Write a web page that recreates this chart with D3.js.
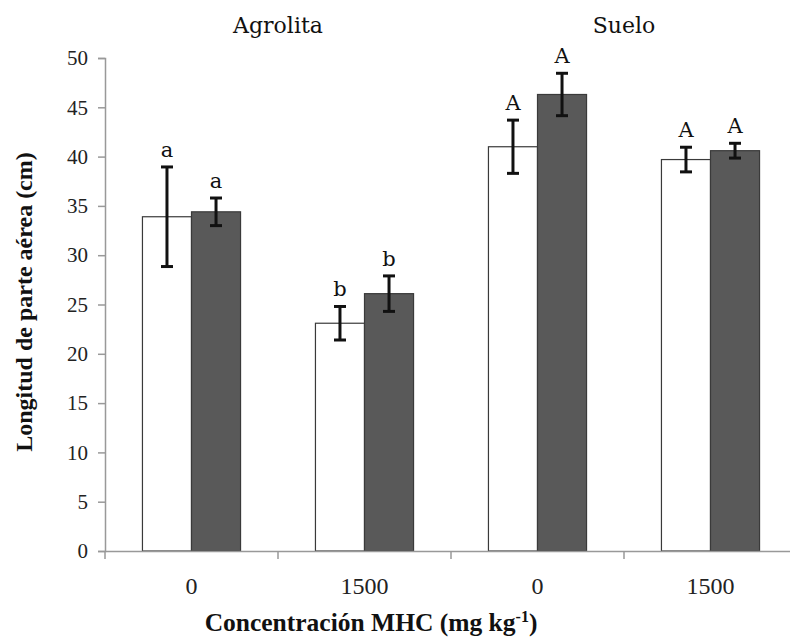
<!DOCTYPE html>
<html>
<head>
<meta charset="utf-8">
<script src="https://cdn.jsdelivr.net/npm/d3@7"></script>
<style>
  body { margin: 0; background: #fff; }
  svg text { font-family: "Liberation Serif", "Times New Roman", serif; }
</style>
</head>
<body>
<div id="chart"></div>
<script>
// data
const categories = ['Agrolita-0', 'Agrolita-1500', 'Suelo-0', 'Suelo-1500'];
const catLabels = ['0', '1500', '0', '1500'];
const groups = ['Agrolita', 'Suelo'];
const series = ['s1', 's2'];
const meansWhite = [33.9, 23.1, 41.0, 39.7];
const errWhite = [5.05, 1.7, 2.7, 1.25];
const meansDark = [34.4, 26.1, 46.3, 40.6];
const errDark = [1.4, 1.8, 2.15, 0.75];
const lettersWhite = ['a', 'b', 'A', 'A'];
const lettersDark = ['a', 'b', 'A', 'A'];
const yTicks = [0, 5, 10, 15, 20, 25, 30, 35, 40, 45, 50];

const width = 790, height = 640;
const plot = { left: 105, right: 797, top: 58, bottom: 551 };
const serif = '"Liberation Serif", "Times New Roman", serif';

const svg = d3.select('#chart').append('svg')
  .attr('width', width)
  .attr('height', height);

const x = d3.scaleBand()
  .domain(categories)
  .range([plot.left, plot.right])
  .paddingInner(0.433)
  .paddingOuter(0.2165);

const xs = d3.scaleBand()
  .domain(series)
  .range([0, x.bandwidth()]);

const y = d3.scaleLinear()
  .domain([0, 50])
  .range([plot.bottom, plot.top]);

// build rows for bars
const rows = [];
categories.forEach((c, i) => {
  rows.push({ cat: c, s: 's1', v: meansWhite[i], e: errWhite[i], l: lettersWhite[i], fill: '#ffffff' });
  rows.push({ cat: c, s: 's2', v: meansDark[i], e: errDark[i], l: lettersDark[i], fill: '#595959' });
});

// bars
svg.append('g').selectAll('rect')
  .data(rows)
  .enter()
  .append('rect')
  .attr('x', d => x(d.cat) + xs(d.s))
  .attr('y', d => y(d.v))
  .attr('width', xs.bandwidth())
  .attr('height', d => y(0) - y(d.v))
  .attr('fill', d => d.fill)
  .attr('stroke', '#3a3a3a')
  .attr('stroke-width', 1.2);

// error bars
const eb = svg.append('g').attr('stroke', '#111').attr('stroke-width', 3);
rows.forEach(d => {
  const cx = x(d.cat) + xs(d.s) + xs.bandwidth() / 2;
  eb.append('line').attr('x1', cx).attr('x2', cx).attr('y1', y(d.v + d.e)).attr('y2', y(d.v - d.e));
  eb.append('line').attr('x1', cx - 6).attr('x2', cx + 6).attr('y1', y(d.v + d.e)).attr('y2', y(d.v + d.e));
  eb.append('line').attr('x1', cx - 6).attr('x2', cx + 6).attr('y1', y(d.v - d.e)).attr('y2', y(d.v - d.e));
});

// significance letters
svg.append('g').selectAll('text')
  .data(rows)
  .enter()
  .append('text')
  .attr('x', d => x(d.cat) + xs(d.s) + xs.bandwidth() / 2)
  .attr('y', d => y(d.v + d.e) - 10)
  .attr('text-anchor', 'middle')
  .style('font-family', '"DejaVu Serif", serif')
  .style('font-size', '21px')
  .attr('fill', '#111')
  .text(d => d.l);

// y axis
const yAxis = svg.append('g')
  .attr('transform', `translate(${plot.left},0)`)
  .call(d3.axisLeft(y).tickValues(yTicks).tickSize(7).tickPadding(10));
yAxis.select('.domain').attr('stroke', '#999').attr('stroke-width', 1.5);
yAxis.selectAll('.tick line').attr('stroke', '#999').attr('stroke-width', 1.5);
yAxis.selectAll('.tick text')
  .style('font-family', serif)
  .style('font-size', '21px')
  .attr('fill', '#222');

// x axis
const xAxis = svg.append('g')
  .attr('transform', `translate(0,${plot.bottom})`)
  .call(d3.axisBottom(x).tickSize(0).tickPadding(26).tickFormat((d, i) => catLabels[i]));
xAxis.select('.domain').attr('stroke', '#999').attr('stroke-width', 1.5);
xAxis.selectAll('.tick text')
  .style('font-family', serif)
  .style('font-size', '24px')
  .attr('fill', '#222');
// boundary ticks between categories
const bounds = categories.map(c => x(c) - x.step() * x.paddingInner() / 2).concat([plot.right]);
xAxis.selectAll('.bound')
  .data(bounds)
  .enter()
  .append('line')
  .attr('x1', d => d).attr('x2', d => d)
  .attr('y1', 0).attr('y2', 8)
  .attr('stroke', '#999')
  .attr('stroke-width', 1.5);

// group titles
svg.selectAll('.grp')
  .data(groups)
  .enter()
  .append('text')
  .attr('x', (d, i) => (x(categories[i * 2]) + x(categories[i * 2 + 1]) + x.bandwidth()) / 2)
  .attr('y', 33)
  .attr('text-anchor', 'middle')
  .style('font-family', '"DejaVu Serif", serif')
  .style('font-size', '22px')
  .attr('fill', '#111')
  .text(d => d);

// axis titles
svg.append('text')
  .attr('transform', `translate(32,302) rotate(-90)`)
  .attr('text-anchor', 'middle')
  .style('font-size', '24px')
  .style('font-weight', 'bold')
  .attr('fill', '#111')
  .text('Longitud de parte aérea (cm)');

const xt = svg.append('text')
  .attr('x', 371)
  .attr('y', 631)
  .attr('text-anchor', 'middle')
  .style('font-size', '25.5px')
  .style('font-weight', 'bold')
  .attr('fill', '#111');
xt.append('tspan').text('Concentración MHC (mg kg');
xt.append('tspan').attr('dy', -9).style('font-size', '16px').text('-1');
xt.append('tspan').attr('dy', 9).text(')');
</script>
</body>
</html>
